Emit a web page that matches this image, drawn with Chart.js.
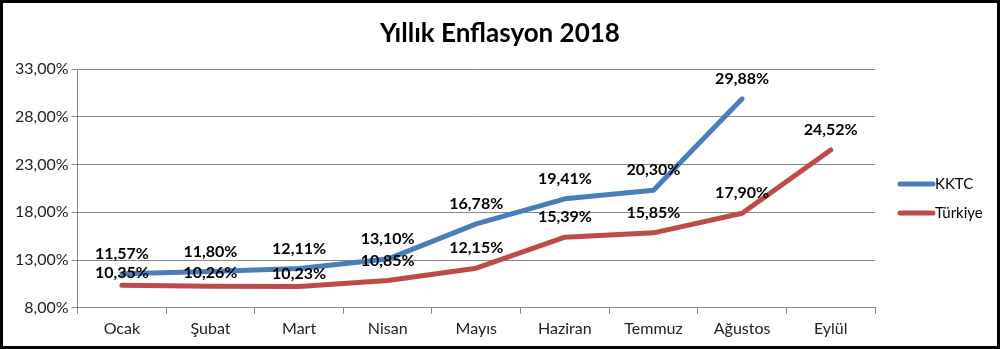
<!DOCTYPE html>
<html>
<head>
<meta charset="utf-8">
<script src="https://cdn.jsdelivr.net/npm/chart.js@4/dist/chart.umd.min.js"></script>
<style>
  html, body { margin: 0; padding: 0; background: #fff; }
  #wrap { width: 1000px; height: 349px; box-sizing: border-box; border: 3px solid #000; background: #fff; }
  canvas { display: block; }
</style>
</head>
<body>
<div id="wrap"><canvas id="c" width="994" height="343"></canvas></div>
<script>
// months on the x axis
const months = ['Ocak', 'Şubat', 'Mart', 'Nisan', 'Mayıs', 'Haziran', 'Temmuz', 'Ağustos', 'Eylül'];
// yearly inflation, percent
const kktc = [11.57, 11.80, 12.11, 13.10, 16.78, 19.41, 20.30, 29.88, null];
const turkiye = [10.35, 10.26, 10.23, 10.85, 12.15, 15.39, 15.85, 17.90, 24.52];
const seriesNames = ['KKTC', 'Türkiye'];
const seriesColors = ['#4A7EBB', '#BE4B48'];
const chartTitle = 'Yıllık Enflasyon 2018';

const FONT = 'Lato, "Open Sans", sans-serif';

function pct(v) { return v.toFixed(2).replace('.', ',') + '%'; }

// value labels above each point; a lower label that would run into the
// label of the series above it is pulled down closer to its own line
const valueLabels = {
  id: 'valueLabels',
  afterDatasetsDraw(chart) {
    const { ctx } = chart;
    const above = 20, tight = 13;
    ctx.save();
    ctx.font = 'bold 16px ' + FONT;
    ctx.fillStyle = '#000';
    ctx.textAlign = 'center';
    ctx.textBaseline = 'middle';
    const placed = [];
    chart.data.datasets.forEach((ds, i) => {
      chart.getDatasetMeta(i).data.forEach((pt, j) => {
        const v = ds.data[j];
        if (v == null) return;
        let y = pt.y - above;
        const prev = placed[j];
        if (prev !== undefined && y - prev < 18) y = pt.y - tight;
        if (prev === undefined) placed[j] = y;
        ctx.fillText(pct(v), pt.x, y);
      });
    });
    ctx.restore();
  }
};

// title centred on the whole picture + legend on the right
const decor = {
  id: 'decor',
  afterDraw(chart) {
    const { ctx } = chart;
    ctx.save();
    ctx.fillStyle = '#000';
    ctx.font = 'bold 26px ' + FONT;
    ctx.textAlign = 'center';
    ctx.textBaseline = 'middle';
    ctx.fillText(chartTitle, 497, 31);

    ctx.font = '15px ' + FONT;
    ctx.textAlign = 'left';
    chart.data.datasets.forEach((ds, i) => {
      const y = 181 + i * 29;
      ctx.strokeStyle = ds.borderColor;
      ctx.lineWidth = 5;
      ctx.lineCap = 'round';
      ctx.beginPath();
      ctx.moveTo(897, y);
      ctx.lineTo(930, y);
      ctx.stroke();
      ctx.fillStyle = '#000';
      ctx.fillText(ds.label, 932, y);
    });
    ctx.restore();
  }
};

new Chart(document.getElementById('c'), {
  type: 'line',
  data: {
    labels: months,
    datasets: [
      { label: seriesNames[0], data: kktc, borderColor: seriesColors[0], backgroundColor: seriesColors[0] },
      { label: seriesNames[1], data: turkiye, borderColor: seriesColors[1], backgroundColor: seriesColors[1] }
    ]
  },
  options: {
    responsive: false,
    animation: false,
    devicePixelRatio: 1,
    layout: { padding: { left: 9, right: 122, top: 66, bottom: 3 } },
    elements: {
      line: { borderWidth: 5, tension: 0, borderCapStyle: 'round', borderJoinStyle: 'round' },
      point: { radius: 0, hoverRadius: 0 }
    },
    scales: {
      x: {
        offset: true,
        grid: { offset: true, drawOnChartArea: false, color: '#888', tickLength: 6 },
        border: { color: '#888' },
        ticks: { color: '#222', font: { family: FONT, size: 16 }, padding: 5 }
      },
      y: {
        min: 8, max: 33,
        grid: { color: '#888', tickLength: 6 },
        border: { color: '#888' },
        ticks: { stepSize: 5, color: '#222', font: { family: FONT, size: 16 }, padding: 3, callback: v => pct(v) }
      }
    },
    plugins: {
      legend: { display: false },
      tooltip: { enabled: false },
      title: { display: false }
    }
  },
  plugins: [valueLabels, decor]
});
</script>
</body>
</html>
